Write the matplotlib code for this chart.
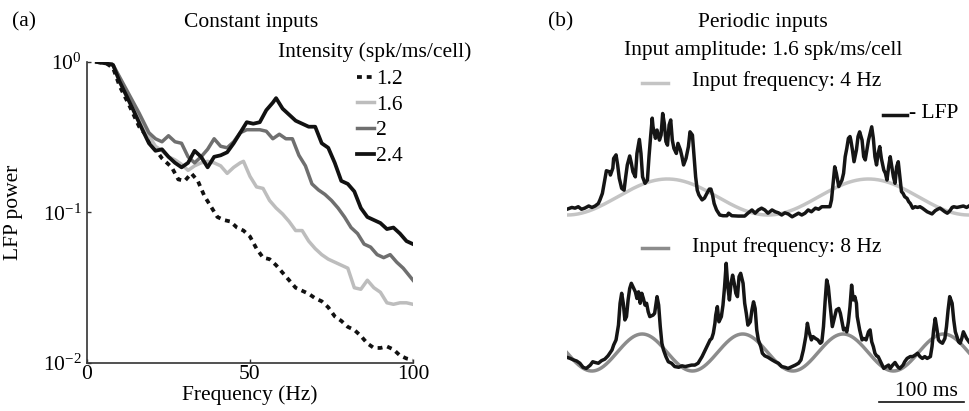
import numpy as np
import matplotlib
matplotlib.use('Agg')
import matplotlib.pyplot as plt

plt.rcParams['font.family'] = ['Liberation Serif', 'DejaVu Serif']
plt.rcParams['mathtext.fontset'] = 'stix'
FS = 15.5

# ---- panel (a): LFP power spectra, constant inputs (values as log10 power) ----
f_12 = [3, 6, 8, 10, 13, 16, 19, 21, 23, 26, 28, 30, 32, 34, 36, 38, 40, 42, 44, 46, 48, 50, 52, 54,
        56, 58, 60, 62, 64, 66, 68, 70, 72, 74, 76, 78, 80, 82, 84, 86, 88, 90, 92, 94, 96, 98, 100]
logp_12 = [0, -0.01, -0.04, -0.16, -0.29, -0.43, -0.51, -0.58, -0.64, -0.70, -0.78, -0.79, -0.74, -0.79,
           -0.89, -0.96, -1.03, -1.05, -1.06, -1.10, -1.12, -1.16, -1.24, -1.30, -1.31, -1.35, -1.40, -1.45,
           -1.50, -1.52, -1.54, -1.57, -1.59, -1.63, -1.69, -1.72, -1.76, -1.78, -1.82, -1.87, -1.90, -1.90,
           -1.89, -1.91, -1.95, -1.97, -1.98]

f_16 = [3, 6, 8, 10, 13, 16, 19, 21, 23, 25, 27, 29, 31, 33, 35, 37, 39, 41, 43, 45, 47, 48, 50, 52, 54,
        56, 58, 60, 62, 64, 66, 68, 70, 72, 74, 76, 78, 80, 82, 84, 86, 88, 90, 92, 94, 96, 98, 100]
logp_16 = [0, 0.01, -0.02, -0.11, -0.25, -0.38, -0.49, -0.56, -0.59, -0.63, -0.65, -0.68, -0.72, -0.69,
           -0.67, -0.66, -0.67, -0.69, -0.74, -0.70, -0.67, -0.66, -0.76, -0.83, -0.84, -0.92, -0.97, -1.01,
           -1.06, -1.12, -1.12, -1.19, -1.24, -1.28, -1.31, -1.33, -1.35, -1.37, -1.50, -1.51, -1.45, -1.50,
           -1.53, -1.60, -1.61, -1.60, -1.60, -1.61]

f_20 = [3, 6, 8, 10, 13, 16, 19, 21, 23, 25, 27, 29, 31, 33, 35, 37, 39, 41, 43, 45, 47, 49, 51, 53, 55,
        57, 59, 61, 63, 65, 67, 69, 71, 73, 75, 77, 79, 81, 83, 85, 87, 89, 91, 93, 95, 97, 100]
logp_20 = [0, 0.02, -0.02, -0.10, -0.22, -0.34, -0.47, -0.51, -0.53, -0.49, -0.53, -0.54, -0.63, -0.67,
           -0.63, -0.58, -0.51, -0.56, -0.57, -0.53, -0.47, -0.45, -0.45, -0.45, -0.46, -0.51, -0.48, -0.51,
           -0.51, -0.62, -0.69, -0.81, -0.85, -0.88, -0.92, -0.97, -1.03, -1.10, -1.14, -1.21, -1.23, -1.28,
           -1.30, -1.28, -1.33, -1.37, -1.45]

f_24 = [3, 6, 8, 10, 14, 17, 19, 21, 23, 25, 27, 29, 31, 33, 35, 37, 39, 41, 43, 45, 47, 49, 51, 53, 55,
        57, 58, 60, 62, 64, 66, 68, 70, 72, 74, 76, 78, 80, 82, 84, 86, 88, 90, 92, 94, 96, 98, 100]
logp_24 = [0, -0.01, -0.02, -0.13, -0.31, -0.45, -0.54, -0.59, -0.58, -0.63, -0.67, -0.70, -0.67, -0.59,
           -0.63, -0.70, -0.63, -0.62, -0.60, -0.54, -0.47, -0.40, -0.41, -0.40, -0.32, -0.27, -0.24, -0.31,
           -0.35, -0.39, -0.41, -0.43, -0.43, -0.54, -0.57, -0.67, -0.79, -0.81, -0.86, -0.97, -1.03, -1.05,
           -1.07, -1.11, -1.10, -1.14, -1.19, -1.21]

# ---- panel (b): LFP traces with periodic inputs ----
in_freqs = [4, 8]            # Hz
in_trough_ms = [0, 31]       # time of first input minimum
t_top = [0, 6, 10, 14, 18, 22, 27, 31, 35, 39, 41, 44, 47, 49, 53, 54, 57, 58, 61, 63, 65, 68, 71, 73, 75,
         78, 80, 82, 85, 87, 90, 92, 94, 97, 100, 102, 104, 106, 107, 110, 112, 115, 117, 119, 121, 123,
         125, 127, 129, 131, 133, 136, 138, 141, 143, 145, 148, 151, 153, 156, 158, 160, 162, 164, 168,
         171, 174, 177, 179, 181, 183, 186, 190, 194, 199, 201, 205, 213, 221, 225, 230, 234, 238, 242,
         246, 250, 255, 259, 263, 267, 271, 275, 280, 284, 288, 292, 296, 300, 304, 309, 313, 317, 323,
         327, 329, 331, 333, 335, 338, 340, 342, 344, 346, 348, 350, 352, 353, 355, 357, 360, 362, 364,
         367, 369, 371, 373, 375, 377, 379, 381, 383, 385, 387, 389, 391, 394, 396, 398, 400, 402, 404,
         406, 408, 410, 412, 414, 416, 418, 420, 423, 425, 427, 430, 433, 436, 439, 442, 445, 448, 452,
         454, 458, 461, 464, 467, 470, 473, 476, 479, 481, 485, 489, 493, 497, 500]
lfp_top = [0.16, 0.21, 0.19, 0.23, 0.16, 0.19, 0.25, 0.21, 0.25, 0.32, 0.42, 0.60, 0.97, 1.23, 1.20, 1.11,
           1.30, 1.57, 1.67, 1.39, 1.02, 0.74, 0.69, 1.06, 1.39, 1.64, 1.44, 1.20, 1.06, 1.71, 2.10, 1.71,
           1.06, 0.88, 0.97, 1.62, 2.18, 2.69, 2.45, 2.13, 2.36, 2.08, 2.22, 2.82, 2.55, 2.04, 1.94, 2.50,
           2.64, 2.08, 1.85, 1.71, 1.99, 1.81, 1.62, 1.39, 1.57, 1.90, 2.31, 2.22, 1.62, 1.06, 0.69, 0.56,
           0.42, 0.47, 0.60, 0.72, 0.72, 0.56, 0.32, 0.14, 0.0, -0.02, -0.02, 0.05, -0.02, -0.03, -0.03,
           0.05, 0.14, 0.05, 0.14, 0.19, 0.14, 0.05, 0.14, 0.09, 0.06, 0.0, 0.06, 0.03, -0.05, 0.0, 0.05,
           0.0, 0.05, 0.14, 0.09, 0.19, 0.16, 0.23, 0.23, 0.23, 0.42, 0.88, 1.34, 1.16, 0.79, 0.88, 0.97,
           1.16, 1.62, 1.85, 2.13, 2.18, 2.08, 1.81, 1.48, 1.81, 2.18, 2.31, 2.08, 1.62, 1.53, 1.81, 2.08,
           2.27, 2.45, 2.13, 1.62, 1.39, 1.71, 1.90, 1.57, 1.25, 1.16, 0.97, 1.34, 1.62, 1.34, 1.06, 0.88,
           1.34, 1.48, 1.06, 0.65, 0.60, 0.51, 0.46, 0.37, 0.32, 0.19, 0.23, 0.21, 0.23, 0.19, 0.14, 0.09,
           0.05, 0.03, 0.12, 0.16, 0.19, 0.14, 0.09, 0.05, 0.11, 0.21, 0.23, 0.21, 0.23, 0.25, 0.21, 0.25]

t_bot = [0, 4, 8, 12, 16, 20, 24, 29, 32, 35, 39, 43, 47, 51, 56, 58, 61, 64, 66, 68, 70, 72, 74, 76, 78,
         80, 83, 85, 87, 89, 91, 93, 95, 97, 99, 101, 103, 107, 109, 112, 114, 116, 118, 120, 123, 126,
         130, 134, 139, 143, 147, 151, 155, 159, 163, 168, 172, 176, 178, 180, 182, 184, 185, 187, 189,
         192, 194, 196, 198, 200, 202, 204, 206, 208, 210, 212, 214, 216, 219, 221, 223, 225, 228, 230,
         232, 234, 236, 238, 241, 243, 246, 250, 255, 259, 263, 267, 271, 275, 280, 284, 288, 291, 294,
         297, 299, 301, 304, 306, 309, 312, 315, 317, 319, 321, 323, 325, 327, 330, 333, 335, 338, 340,
         342, 344, 346, 348, 350, 352, 354, 356, 358, 360, 361, 364, 367, 369, 372, 375, 377, 379, 381,
         383, 385, 387, 389, 391, 394, 397, 400, 402, 405, 408, 410, 412, 414, 418, 420, 423, 427, 430,
         433, 436, 439, 442, 445, 448, 452, 454, 456, 458, 460, 462, 464, 467, 470, 472, 474, 476, 479,
         481, 483, 485, 487, 489, 491, 493, 495, 497, 500]
lfp_bot = [0.37, 0.34, 0.30, 0.27, 0.21, 0.10, 0.07, 0.16, 0.25, 0.23, 0.21, 0.28, 0.32, 0.41, 0.57, 0.70,
           0.84, 1.24, 1.83, 2.10, 1.83, 1.38, 1.47, 1.92, 2.23, 2.37, 2.23, 2.14, 1.96, 2.14, 1.83, 2.10,
           1.96, 1.78, 1.83, 1.60, 1.47, 1.51, 1.56, 2.01, 1.78, 1.20, 0.75, 0.57, 0.39, 0.25, 0.21, 0.12,
           0.10, 0.14, 0.12, 0.14, 0.16, 0.16, 0.21, 0.39, 0.57, 0.75, 0.84, 0.88, 1.02, 1.29, 1.51, 1.74,
           1.33, 1.47, 1.78, 2.28, 2.91, 2.28, 1.92, 2.37, 2.59, 2.37, 2.10, 2.01, 2.55, 2.64, 2.37, 1.83,
           1.56, 1.24, 1.33, 1.65, 1.87, 1.69, 1.11, 0.84, 0.66, 0.48, 0.41, 0.37, 0.30, 0.25, 0.21, 0.12,
           0.10, 0.07, 0.12, 0.16, 0.21, 0.30, 0.57, 0.93, 1.29, 1.06, 0.84, 0.93, 0.88, 0.84, 0.75, 0.79,
           1.20, 1.87, 2.46, 2.28, 1.83, 1.20, 1.47, 1.65, 1.69, 1.56, 1.33, 1.11, 1.15, 1.06, 1.33, 1.74,
           2.32, 1.92, 2.01, 1.83, 1.47, 1.11, 0.84, 0.88, 0.84, 1.06, 1.11, 0.79, 0.66, 0.48, 0.41, 0.39,
           0.30, 0.21, 0.07, 0.12, 0.16, 0.07, 0.16, 0.23, 0.16, 0.10, 0.07, 0.16, 0.25, 0.34, 0.39, 0.39,
           0.43, 0.48, 0.39, 0.34, 0.39, 0.34, 0.39, 0.66, 1.11, 1.42, 1.15, 0.84, 0.79, 0.75, 0.88, 1.20,
           1.65, 2.01, 1.83, 1.38, 1.06, 0.93, 0.79, 0.75, 0.88, 1.06, 0.97, 0.88, 0.79]

fig = plt.figure(figsize=(9.69, 4.11), dpi=100)
W, H = 969.0, 411.0

# ---------------- panel (a) ----------------
ax = fig.add_axes([87 / W, 1 - 363 / H, 326 / W, 301 / H])
ax.plot(f_12, 10 ** np.array(logp_12), color='#111111', lw=2.7, ls=(0, (1.3, 1.3)), label='1.2')
ax.plot(f_16, 10 ** np.array(logp_16), color='#bdbdbd', lw=2.5, label='1.6')
ax.plot(f_20, 10 ** np.array(logp_20), color='#6f6f6f', lw=2.5, label='2')
ax.plot(f_24, 10 ** np.array(logp_24), color='#111111', lw=2.7, label='2.4')
ax.set_yscale('log')
ax.set_xlim(0, 100)
ax.set_ylim(1e-2, 1e0)
ax.set_xticks([0, 50, 100])
ax.set_yticks([1e-2, 1e-1, 1e0])
ax.yaxis.set_minor_locator(matplotlib.ticker.NullLocator())
ax.tick_params(direction='in', length=3, width=1, color='#333333', labelsize=FS, pad=4)
ax.tick_params(axis='x', pad=1.5)
for s in ['top', 'right']:
    ax.spines[s].set_visible(False)
for s in ['left', 'bottom']:
    ax.spines[s].set_color('#333333')
    ax.spines[s].set_linewidth(1.2)
ax.set_xlabel('Frequency (Hz)', fontsize=FS, labelpad=1)
ax.set_ylabel('LFP power', fontsize=FS)
ax.yaxis.set_label_coords(-0.196, 0.5)
leg = ax.legend(loc='upper left', bbox_to_anchor=(357 / W, 1 - 69 / H), bbox_transform=fig.transFigure,
                frameon=False, fontsize=FS, handlelength=0.8, handletextpad=0.1,
                labelspacing=0.26, borderpad=0, borderaxespad=0)

fig.text(12 / W, 1 - 22 / H, '(a)', fontsize=FS, va='center', ha='left')
fig.text(251 / W, 1 - 22 / H, 'Constant inputs', fontsize=FS, va='center', ha='center')
fig.text(278 / W, 1 - 52 / H, 'Intensity (spk/ms/cell)', fontsize=FS, va='center', ha='left')

# ---------------- panel (b) ----------------
x0, x1 = 567, 969
axt = fig.add_axes([x0 / W, 1 - 222.2 / H, (x1 - x0) / W, 115.2 / H])
axb = fig.add_axes([x0 / W, 1 - 378.4 / H, (x1 - x0) / W, 122.1 / H])
tt = np.linspace(0, 500, 1001)
sine_cols = ['#c4c4c4', '#8c8c8c']
for a, fr, tr, col, tl, vl in zip([axt, axb], in_freqs, in_trough_ms, sine_cols,
                                  [t_top, t_bot], [lfp_top, lfp_bot]):
    a.plot(tt, 0.5 - 0.5 * np.cos(2 * np.pi * fr * (tt - tr) / 1000.0), color=col, lw=2.5)
    a.plot(tl, vl, color='#151515', lw=2.5)
    a.set_xlim(0, 500)
    a.axis('off')
axt.set_ylim(-0.2, 3.0)
axb.set_ylim(-0.2, 3.1)

fig.text(548 / W, 1 - 22 / H, '(b)', fontsize=FS, va='center', ha='left')
fig.text(763 / W, 1 - 22 / H, 'Periodic inputs', fontsize=FS, va='center', ha='center')
fig.text(763 / W, 1 - 50 / H, 'Input amplitude: 1.6 spk/ms/cell', fontsize=FS, va='center', ha='center')

# legend-like keys for the inputs and LFP
fig.add_artist(plt.Line2D([642 / W, 668 / W], [1 - 83 / H, 1 - 83 / H], color=sine_cols[0], lw=2.5))
fig.text(692 / W, 1 - 81 / H, 'Input frequency: 4 Hz', fontsize=FS, va='center', ha='left')
fig.add_artist(plt.Line2D([883 / W, 907 / W], [1 - 115 / H, 1 - 115 / H], color='#151515', lw=2.5))
fig.text(909 / W, 1 - 114 / H, '- LFP', fontsize=FS, va='center', ha='left')
fig.add_artist(plt.Line2D([642 / W, 668 / W], [1 - 248 / H, 1 - 248 / H], color=sine_cols[1], lw=2.5))
fig.text(692 / W, 1 - 247 / H, 'Input frequency: 8 Hz', fontsize=FS, va='center', ha='left')

# 100 ms scale bar
axb.plot([388, 494], [-0.85, -0.85], color='#111111', lw=1.2, clip_on=False)
fig.text(926 / W, 1 - 391 / H, '100 ms', fontsize=FS, va='center', ha='center')

fig.savefig('out.png', dpi=100)
